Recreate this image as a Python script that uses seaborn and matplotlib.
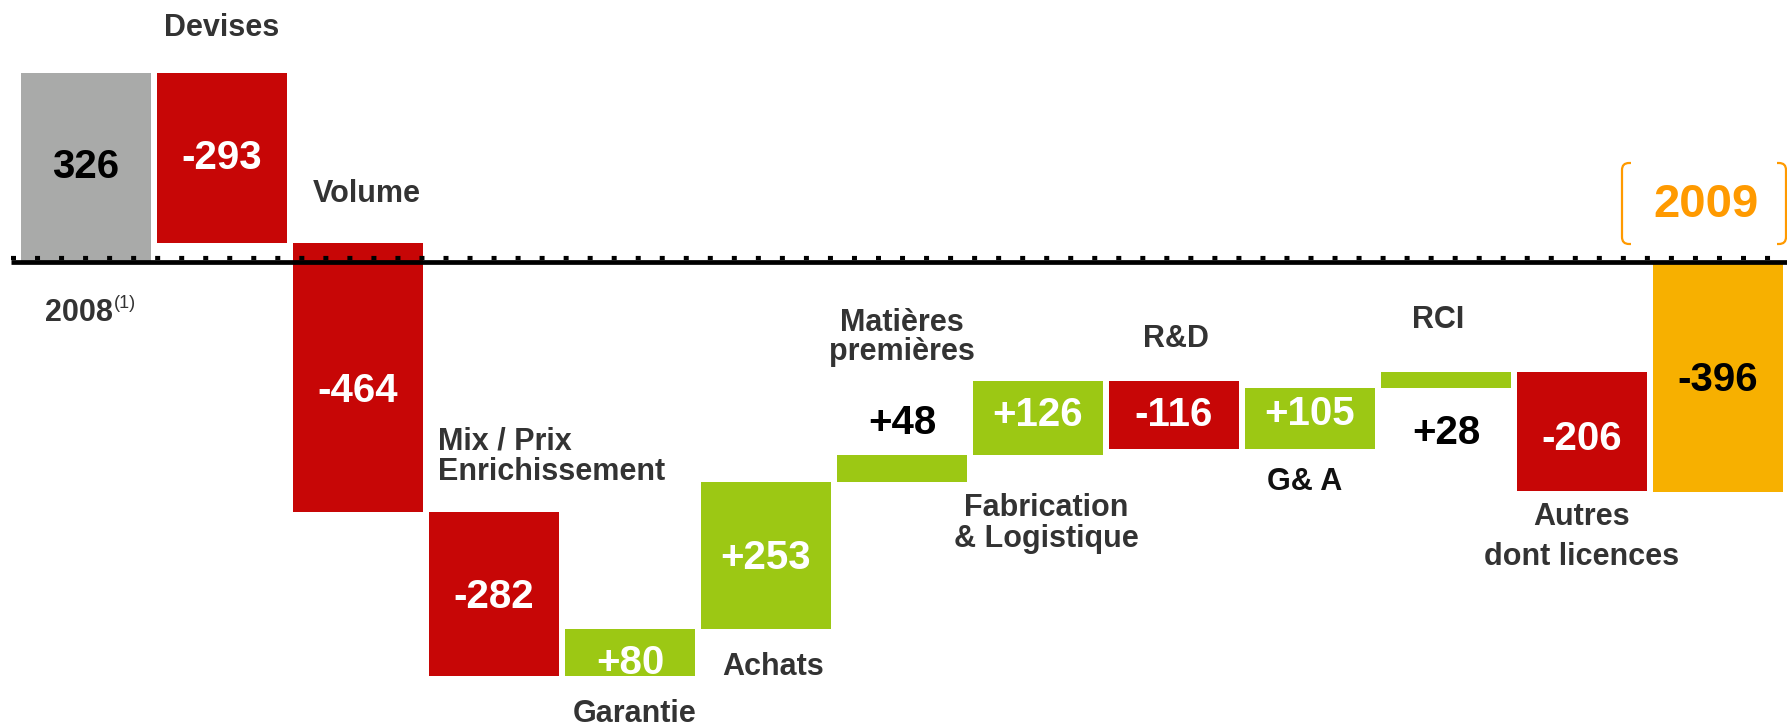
import matplotlib
matplotlib.use("Agg")
import matplotlib.pyplot as plt
from matplotlib.path import Path
from matplotlib.patches import PathPatch
import seaborn as sns
import numpy as np

# ---------------- data ----------------
categories = ["2008", "Devises", "Volume", "Mix / Prix\nEnrichissement", "Garantie",
              "Achats", "Matières\npremières", "Fabrication\n& Logistique", "R&D",
              "G& A", "RCI", "Autres\ndont licences", "2009"]
start_value = 326
deltas = [-293, -464, -282, 80, 253, 48, 126, -116, 105, 28, -206]
end_value = -396
kinds = ["start", "neg", "neg", "neg", "pos", "pos", "pos", "pos", "neg", "pos", "pos", "neg", "end"]

# ---------------- styles / layout ----------------
COLORS = {"start": "#A9AAA9", "neg": "#C70606", "pos": "#9CC814", "end": "#F7B000"}
LABEL_GREY = "#333333"
ORANGE_TXT = "#FF9A00"

W_PX, H_PX = 1787, 725
DPI = 100
XLIM = (-86 / 136, (W_PX - 86) / 136)
Y_SCALE = 0.58          # px per unit
BASE_PX = 262
YLIM = (-(H_PX - BASE_PX) / Y_SCALE, BASE_PX / Y_SCALE)

# category label layout: anchor, dx px, dy px (down positive), ha, linespacing, color, size
cat_layout = [
    None,
    ("top", 0, -45, "center", 1.1, LABEL_GREY, 22),
    ("top", 9, -49, "center", 1.1, LABEL_GREY, 22),
    ("top", -56, -55, "left", 1.0, LABEL_GREY, 22),
    ("bottom", 5, 38, "center", 1.1, LABEL_GREY, 22),
    ("bottom", 7, 38, "center", 1.1, LABEL_GREY, 22),
    ("top", 0, -117, "center", 0.95, LABEL_GREY, 22),
    ("bottom", 8, 69, "center", 1.05, LABEL_GREY, 22),
    ("top", 2, -42, "center", 1.1, LABEL_GREY, 22),
    ("bottom", -5, 33, "center", 1.1, "#111111", 22),
    ("top", -8, -52, "center", 1.1, LABEL_GREY, 22),
    ("bottom", 0, 46, "center", 1.45, LABEL_GREY, 22),
    ("top", -12, -57, "center", 1.1, ORANGE_TXT, 34),
]
# value label layout: anchor, dy px, color
val_layout = [
    ("mid", 0, "black"), ("mid", 0, "white"), ("mid", 14, "white"), ("mid", 3, "white"),
    ("mid", 11, "white"), ("mid", 2, "white"), ("top", -32, "black"), ("mid", -3, "white"),
    ("mid", 0, "white"), ("mid", -4, "white"), ("bottom", 45, "black"), ("mid", 8, "white"),
    ("mid", 3, "black"),
]

# ---------------- compute waterfall ----------------
levels = [start_value]
for d in deltas:
    levels.append(levels[-1] + d)
bottoms = [0]
heights = [start_value]
for i, d in enumerate(deltas):
    a, b = levels[i], levels[i + 1]
    bottoms.append(min(a, b))
    heights.append(abs(d))
bottoms.append(min(0, end_value))
heights.append(abs(end_value))
tops = [b + h for b, h in zip(bottoms, heights)]
value_texts = [str(start_value)] + [f"{d:+d}" for d in deltas] + [str(end_value)]

# ---------------- plot ----------------
sns.set_theme(style="white")
plt.rcParams["font.family"] = ["Liberation Sans", "DejaVu Sans"]
plt.rcParams["lines.scale_dashes"] = False

fig = plt.figure(figsize=(W_PX / DPI, H_PX / DPI), dpi=DPI)
ax = fig.add_axes([0, 0, 1, 1])

xs = list(range(len(categories)))
sns.barplot(x=xs, y=heights, color="grey", width=0.95, linewidth=0, ax=ax,
            order=xs, native_scale=False)
for patch, b, h, k in zip(ax.patches, bottoms, heights, kinds):
    patch.set_y(b)
    patch.set_height(h)
    patch.set_facecolor(COLORS[k])
    patch.set_edgecolor("none")

ax.set_xlim(*XLIM)
ax.set_ylim(*YLIM)
ax.axis("off")

# baseline: solid thick line + small dashes on top
x0 = -0.55
ax.plot([x0, XLIM[1] + 1], [0, 0], color="black", lw=3.4, zorder=5, solid_capstyle="butt")
ax.plot([x0, XLIM[1] + 1], [3.5 / Y_SCALE, 3.5 / Y_SCALE], color="black", lw=3.0,
        dashes=(3.6, 13.7), zorder=5)

PT = 72 / DPI  # points per px

# category labels
for i, (cat, lay) in enumerate(zip(categories, cat_layout)):
    if lay is None:
        continue
    anchor, dx, dy, ha, ls, col, size = lay
    y = tops[i] if anchor == "top" else bottoms[i]
    ax.annotate(cat, xy=(i, y), xytext=(dx * PT, -dy * PT), textcoords="offset points",
                ha=ha, va="center", fontsize=size, fontweight="bold", color=col,
                linespacing=ls, zorder=6)

# 2008 label with superscript
ax.annotate(categories[0], xy=(0, bottoms[0]), xytext=(27 * PT, -51 * PT),
            textcoords="offset points", ha="right", va="center", fontsize=22,
            fontweight="bold", color=LABEL_GREY)
ax.annotate("(1)", xy=(0, bottoms[0]), xytext=(28 * PT, -42 * PT),
            textcoords="offset points", ha="left", va="center", fontsize=13,
            color=LABEL_GREY)

# value labels
for i, (txt, lay) in enumerate(zip(value_texts, val_layout)):
    anchor, dy, col = lay
    if anchor == "mid":
        y = bottoms[i] + heights[i] / 2
    elif anchor == "top":
        y = tops[i]
    else:
        y = bottoms[i]
    ax.annotate(txt, xy=(i, y), xytext=(0, -dy * PT), textcoords="offset points",
                ha="center", va="center", fontsize=29, fontweight="bold", color=col,
                zorder=6)

# bracket around 2009
px_x = (XLIM[1] - XLIM[0]) / W_PX
px_y = (YLIM[1] - YLIM[0]) / H_PX
def bracket(xc, side):
    # xc: data x of vertical stroke; side: +1 arms go right, -1 arms go left
    top = (BASE_PX - 163) / Y_SCALE
    bot = (BASE_PX - 244) / Y_SCALE
    r, arm = 7, 9
    verts = [(xc + side * arm * px_x, top), (xc + side * r * px_x, top), (xc, top),
             (xc, top - r * px_y), (xc, bot + r * px_y), (xc, bot),
             (xc + side * r * px_x, bot), (xc + side * arm * px_x, bot)]
    codes = [Path.MOVETO, Path.LINETO, Path.CURVE3, Path.CURVE3, Path.LINETO,
             Path.CURVE3, Path.CURVE3, Path.LINETO]
    ax.add_patch(PathPatch(Path(verts, codes), fill=False, edgecolor=ORANGE_TXT,
                           lw=1.6, clip_on=False, zorder=6))

n = len(categories) - 1
bracket(n + (1622 - 1718) * px_x, 1)
bracket(n + (1786 - 1718) * px_x, -1)

fig.savefig("out.png", dpi=DPI)
